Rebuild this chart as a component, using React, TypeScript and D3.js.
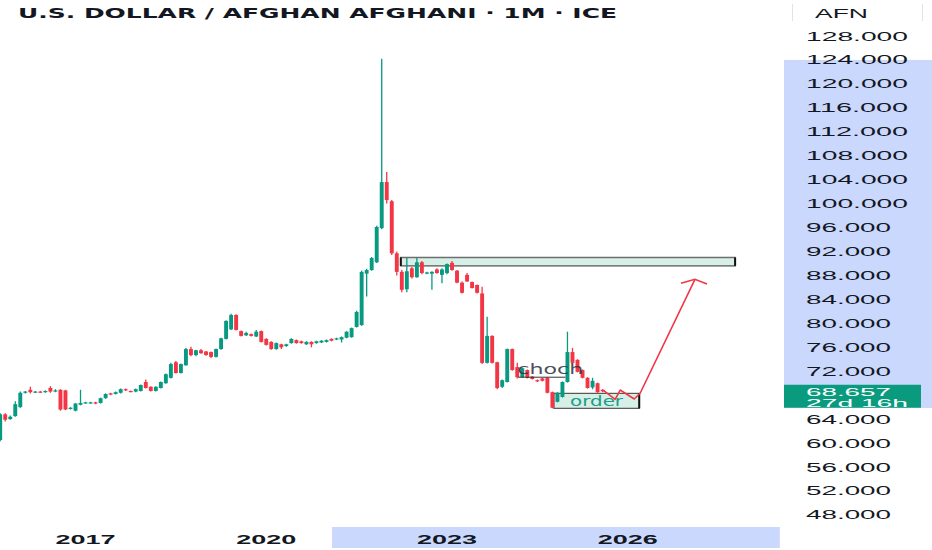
import React from 'react'
import * as d3 from 'd3'

const title = 'U.S. DOLLAR / AFGHAN AFGHANI · 1M · ICE'
const currency = 'AFN'
// first bar = Aug 2015, one bar per month
const firstYear = 2015
const firstMonth = 7

const opens = [
  60.5, 64.8, 64.0, 64.5, 66.0, 68.4, 68.9, 68.5, 68.6, 68.5, 69.2, 68.6, 68.9, 68.8, 65.7, 65.4,
  66.4, 66.7, 66.7, 66.8, 66.7, 67.5, 68.3, 68.2, 68.4, 69.0, 68.7, 68.6, 68.7, 70.2, 69.4, 68.7,
  69.2, 70.0, 70.9, 73.5, 71.7, 73.0, 75.7, 74.7, 75.5, 75.3, 75.2, 74.4, 75.7, 77.4, 79.0, 81.4,
  78.7, 78.0, 78.2, 77.8, 78.7, 77.4, 76.9, 75.7, 76.5, 76.2, 76.7, 77.2, 77.0, 76.5, 76.9, 76.7,
  76.8, 76.9, 77.4, 77.3, 77.3, 77.6, 77.7, 79.4, 79.7, 88.3, 88.9, 90.2, 95.9, 103.6, 100.4, 91.7,
  88.6, 85.7, 89.2, 87.7, 90.2, 88.3, 88.3, 89.0, 88.1, 88.4, 90.1, 88.8, 86.8, 88.1, 86.9, 86.4,
  85.0, 73.4, 77.9, 73.5, 69.4, 70.2, 75.7, 72.7, 71.0, 72.2, 71.1, 70.5, 70.8, 70.9, 68.5, 66.9,
  67.7, 70.2, 75.2, 73.9, 72.2, 70.9, 69.3, 70.0, 68.9
]
const highs = [
  65.0, 65.0, 64.6, 67.0, 68.6, 68.7, 69.4, 68.7, 68.7, 68.8, 69.5, 69.0, 69.0, 68.9, 66.0, 66.7,
  68.9, 66.9, 66.9, 66.9, 67.6, 68.3, 68.4, 68.6, 69.1, 69.1, 68.8, 69.1, 69.8, 70.6, 69.5, 69.5,
  70.3, 71.6, 73.4, 73.7, 73.3, 75.9, 76.1, 75.6, 75.7, 75.4, 75.3, 75.8, 77.6, 80.5, 81.6, 81.5,
  78.8, 78.6, 78.3, 78.9, 78.8, 77.5, 77.0, 76.8, 76.6, 76.6, 77.5, 77.3, 77.1, 77.0, 77.0, 77.1,
  77.2, 77.3, 77.5, 77.6, 77.8, 78.7, 79.3, 82.1, 88.8, 89.1, 91.1, 96.3, 124.2, 105.3, 100.6, 92.0,
  88.9, 90.9, 89.4, 90.9, 90.4, 88.6, 88.7, 89.2, 89.2, 90.0, 90.4, 88.9, 87.0, 88.4, 87.0, 86.5,
  86.1, 81.1, 78.0, 73.6, 70.6, 75.8, 75.8, 73.4, 72.6, 72.3, 71.2, 70.6, 70.9, 71.0, 68.6, 68.5,
  70.3, 78.6, 75.9, 74.0, 72.3, 71.0, 70.9, 70.1, 69.0
]
const lows = [
  60.3, 63.6, 63.9, 64.4, 65.9, 68.3, 68.3, 68.4, 68.4, 68.4, 68.4, 68.5, 65.4, 65.5, 65.6, 65.3,
  66.3, 66.6, 66.6, 66.5, 66.6, 67.4, 68.0, 68.1, 68.3, 68.7, 68.5, 68.5, 68.6, 69.1, 68.6, 68.6,
  69.1, 69.9, 70.8, 71.6, 71.6, 72.9, 74.5, 74.5, 74.9, 74.6, 74.2, 74.3, 75.6, 77.3, 78.9, 78.8,
  77.8, 77.9, 77.8, 77.7, 76.8, 76.3, 75.6, 75.6, 75.7, 76.1, 76.6, 76.6, 76.6, 76.4, 76.0, 76.6,
  76.7, 76.8, 77.0, 77.2, 76.8, 77.5, 77.6, 79.3, 79.6, 84.5, 88.8, 90.1, 95.7, 100.0, 91.4, 88.0,
  85.2, 85.2, 87.5, 87.6, 88.2, 88.2, 85.6, 88.3, 86.7, 88.2, 88.8, 86.7, 85.0, 86.9, 85.8, 85.0,
  73.2, 73.3, 73.3, 69.0, 69.2, 70.1, 72.1, 70.8, 70.9, 70.8, 70.6, 70.2, 70.3, 68.3, 65.8, 66.8,
  67.6, 70.1, 73.3, 71.8, 70.8, 69.1, 69.0, 68.4, 68.5
]
const closes = [
  64.8, 63.9, 64.4, 66.5, 68.4, 68.6, 68.5, 68.6, 68.5, 68.7, 68.6, 68.8, 65.6, 65.6, 65.9, 66.6,
  66.7, 66.8, 66.8, 66.6, 67.5, 68.2, 68.1, 68.5, 69.0, 68.8, 68.6, 69.0, 69.7, 69.2, 68.7, 69.4,
  70.2, 71.5, 73.2, 71.7, 73.2, 75.7, 74.7, 75.5, 75.0, 74.7, 74.4, 75.7, 77.5, 80.4, 81.4, 78.9,
  77.9, 78.4, 77.9, 78.6, 76.9, 76.4, 75.7, 76.7, 76.0, 76.5, 77.4, 76.7, 76.7, 76.9, 76.5, 77.0,
  77.1, 77.2, 77.1, 77.5, 77.7, 78.6, 79.2, 81.9, 88.6, 88.9, 90.9, 96.1, 103.6, 100.6, 91.7, 88.6,
  85.6, 88.7, 87.7, 90.2, 88.4, 88.5, 88.6, 88.4, 89.0, 89.9, 88.9, 86.8, 85.1, 87.0, 85.9, 85.1,
  73.4, 77.9, 73.4, 69.2, 70.5, 75.7, 72.2, 71.0, 72.5, 70.9, 70.7, 70.3, 70.4, 68.4, 65.9, 68.4,
  70.2, 75.2, 73.4, 71.9, 70.9, 69.2, 70.4, 68.5, 68.657
]

const priceTicks = [128, 124, 120, 116, 112, 108, 104, 100, 96, 92, 88, 84, 80, 76, 72, 64, 60, 56, 52, 48]
const yearTicks = [2017, 2020, 2023, 2026]
const lastPrice = 68.657
const countdown = '27d 16h'

// drawings, in (bar index, price)
const zoneTop = { from: 79.8, to: 146.4, top: 91.0, bottom: 89.6 }
const orderBlock = { from: 110.3, to: 127.3, top: 68.3, bottom: 65.8 }
const orderLabel = 'order'
const chochLabel = 'choch'
const chochLine = { from: 103.2, to: 112.6, price: 71.0 }
const projection = [[120.1, 68.86], [122.5, 67.3], [123.5, 68.86], [126.3, 67.36], [127.5, 68.36], [138.4, 87.35]]
const arrowHead = [[135.6, 86.7], [138.4, 87.35], [140.8, 86.57]]
const selection = { fromBar: 66.1, toBar: 155.3, top: 124, bottom: 65.85 }

const UP = '#089981'
const DOWN = '#f23645'
const AXIS_FONT = "'Liberation Sans', Arial, sans-serif"

export default function App() {
  const W = 932
  const H = 550
  const x = d3.scaleLinear().domain([0, 155]).range([0.2, 0.2 + 155 * 5.02])
  const y = d3.scaleLinear().domain([48, 128]).range([514.9, 36])
  const bodyW = 3.9
  const barIdx = (yr: number) => (yr - firstYear) * 12 - firstMonth

  const line = d3.line<number[]>().x((d) => x(d[0])).y((d) => y(d[1]))

  return (
    <div style={{ position: 'fixed', left: 0, top: 0, width: W, height: H, background: '#fff' }}>
      <svg width={W} height={H} style={{ display: 'block' }}>
        <rect width={W} height={H} fill="#fff" />
        {/* selection highlights on the axes */}
        <rect x={784} y={y(selection.top)} width={W - 784} height={y(selection.bottom) - y(selection.top)} fill="#cbd8fd" />
        <rect x={x(selection.fromBar)} y={527} width={x(selection.toBar) - x(selection.fromBar)} height={21} fill="#cbd8fd" />

        {/* title */}
        <text x={18} y={18} fontFamily="'DejaVu Sans', sans-serif" fontWeight="bold" fontSize={14.5} fill="#131722"
          textLength={599} lengthAdjust="spacingAndGlyphs">{title}</text>

        {/* AFN header */}
        <line x1={792.5} x2={792.5} y1={4} y2={21} stroke="#e0e3eb" />
        <line x1={922.5} x2={922.5} y1={4} y2={21} stroke="#e0e3eb" />
        <text x={815} y={18} fontFamily={AXIS_FONT} fontSize={13} fill="#131722" textLength={53} lengthAdjust="spacingAndGlyphs">{currency}</text>

        {/* price axis labels */}
        {priceTicks.map((t) => {
          const s = d3.format('.3f')(t)
          return (
            <text key={t} x={806} y={y(t) + 4.5} fontFamily={AXIS_FONT} fontSize={13} fill="#131722"
              textLength={s.length === 7 ? 102 : 85} lengthAdjust="spacingAndGlyphs">{s}</text>
          )
        })}

        {/* year labels */}
        {yearTicks.map((yr) => (
          <text key={yr} x={x(barIdx(yr))} y={544} textAnchor="middle" fontFamily={AXIS_FONT} fontWeight="bold"
            fontSize={13} fill="#131722" textLength={60} lengthAdjust="spacingAndGlyphs">{yr}</text>
        ))}

        {/* resistance zone */}
        <g>
          <rect x={x(zoneTop.from)} y={y(zoneTop.top)} width={x(zoneTop.to) - x(zoneTop.from)} height={y(zoneTop.bottom) - y(zoneTop.top)}
            fill="#d6f0e8" stroke="#6e6e6e" strokeWidth={1.5} />
          <line x1={x(zoneTop.from)} x2={x(zoneTop.from)} y1={y(zoneTop.top)} y2={y(zoneTop.bottom)} stroke="#111" strokeWidth={2} />
          <line x1={x(zoneTop.to)} x2={x(zoneTop.to)} y1={y(zoneTop.top)} y2={y(zoneTop.bottom)} stroke="#111" strokeWidth={2} />
        </g>

        {/* order block */}
        <rect x={x(orderBlock.from)} y={y(orderBlock.top)} width={x(orderBlock.to) - x(orderBlock.from)} height={y(orderBlock.bottom) - y(orderBlock.top)}
          fill="#d6f0e8" stroke="#555" strokeWidth={1.2} />
        <line x1={x(orderBlock.to)} x2={x(orderBlock.to)} y1={y(orderBlock.top)} y2={y(orderBlock.bottom)} stroke="#111" strokeWidth={2} />

        {/* candles */}
        {opens.map((o, i) => {
          const c = closes[i]
          const col = c >= o ? UP : DOWN
          const cx = x(i)
          const top = y(Math.max(o, c))
          const bot = y(Math.min(o, c))
          return (
            <g key={i}>
              <line x1={cx} x2={cx} y1={y(highs[i])} y2={y(lows[i])} stroke={col} strokeWidth={1.3} />
              <rect x={cx - bodyW / 2} y={top} width={bodyW} height={Math.max(1.2, bot - top)} fill={col} />
            </g>
          )
        })}

        {/* choch */}
        <line x1={x(chochLine.from)} x2={x(chochLine.to)} y1={y(chochLine.price)} y2={y(chochLine.price)} stroke="#333" strokeWidth={1} />
        <text x={x(chochLine.from) - 1} y={y(chochLine.price) - 3} fontFamily="'DejaVu Sans', sans-serif" fontSize={14}
          fill="#2a2e39" fillOpacity={0.85} textLength={66} lengthAdjust="spacingAndGlyphs">{chochLabel}</text>

        <text x={(x(orderBlock.from) + x(orderBlock.to)) / 2} y={y(orderBlock.bottom) - 2.5} textAnchor="middle"
          fontFamily="'DejaVu Sans', sans-serif" fontSize={14} fill="#1f9c87" textLength={53} lengthAdjust="spacingAndGlyphs">{orderLabel}</text>

        {/* projection arrow */}
        <path d={line(projection) || ''} fill="none" stroke={DOWN} strokeWidth={1.6} strokeLinejoin="round" />
        <path d={line(arrowHead) || ''} fill="none" stroke={DOWN} strokeWidth={1.6} />

        {/* last price label */}
        <rect x={784} y={y(lastPrice) - 6.5} width={137} height={23} fill="#0a9b7e" />
        <text x={806} y={y(lastPrice) + 4.5} fontFamily={AXIS_FONT} fontSize={11} fill="#fff"
          textLength={85} lengthAdjust="spacingAndGlyphs">{d3.format('.3f')(lastPrice)}</text>
        <text x={806} y={y(lastPrice) + 15.3} fontFamily={AXIS_FONT} fontSize={11} fill="#fff"
          textLength={102} lengthAdjust="spacingAndGlyphs">{countdown}</text>
      </svg>
    </div>
  )
}
